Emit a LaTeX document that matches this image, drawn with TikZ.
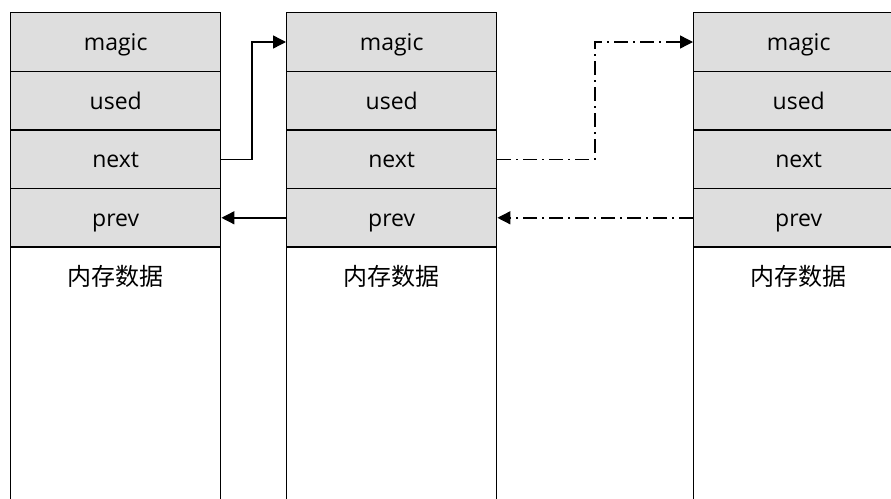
\documentclass[tikz,border=0pt]{standalone}
\usepackage{fontspec}
\setmainfont{Open Sans}
\newfontfamily\cjk{Noto Sans CJK SC}
\usetikzlibrary{arrows.meta}
\definecolor{cellgray}{HTML}{DEDEDE}
\begin{document}
\begin{tikzpicture}[x=1pt,y=-1pt,
  cell/.style={draw, line width=1.4pt, fill=cellgray, minimum width=210pt, minimum height=58.6pt, inner sep=0pt, text height=17.4pt, text depth=0pt, anchor=north west, font=\fontsize{23}{28}\selectfont},
  body/.style={draw, line width=1.4pt, fill=white, minimum width=210pt, minimum height=290pt, inner sep=0pt, anchor=north west},
  bodytext/.style={font=\cjk\fontsize{24}{28}\selectfont, inner sep=0pt},
  link/.style={line width=1.4pt, -{Triangle[length=13pt,width=13pt]}},
  dlink/.style={link, dash pattern=on 14pt off 5pt on 2pt off 5pt}]
\useasboundingbox (0,0) rectangle (891,498);
\clip (0,0) rectangle (891,498);
\foreach \c/\x in {1/10, 2/286, 3/693} {
  \node[cell] (m\c) at (\x,12) {magic};
  \node[cell] (u\c) at (\x,70.6) {used};
  \node[cell] (n\c) at (\x,129.2) {next};
  \node[cell] (p\c) at (\x,187.8) {prev};
  \node[body] (b\c) at (\x,246.4) {};
  \node[bodytext] (t\c) at ([yshift=-30pt]b\c.north) {内存数据};
}
\coordinate (j1) at (252,0);
\coordinate (j2) at (595,0);
\draw[link] (n1.east) -- (n1.east -| j1) -- (m2.west -| j1) -- (m2.west);
\draw[link] (p2.west) -- (p1.east);
\draw[dlink] (n2.east) -- (n2.east -| j2) -- (m3.west -| j2) -- (m3.west);
\draw[dlink] (p3.west) -- (p2.east);
\end{tikzpicture}
\end{document}
